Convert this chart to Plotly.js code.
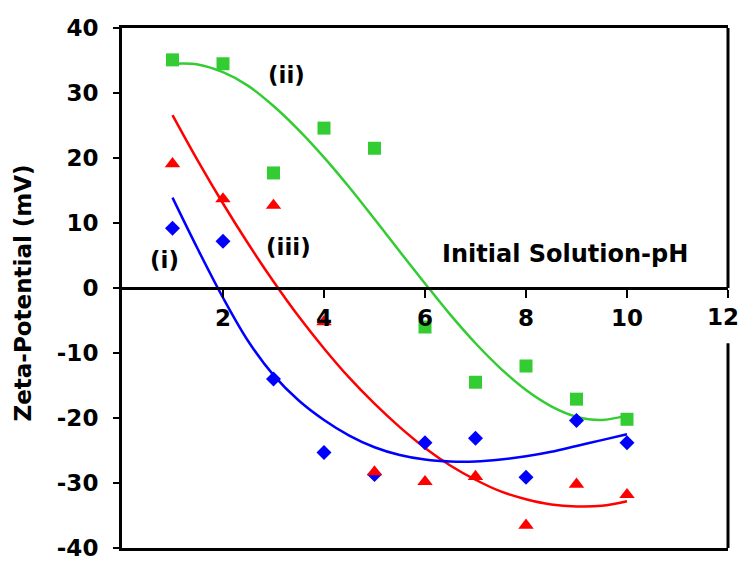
<!DOCTYPE html>
<html>
<head>
<meta charset="utf-8">
<script src="https://cdn.plot.ly/plotly-3.0.1.min.js"></script>
<style>html,body{margin:0;padding:0;background:#fff;}#chart{width:741px;height:563px;}</style>
</head>
<body>
<div id="chart"></div>
<script>
// Measured data (initial solution pH vs zeta potential, mV)
const pH = [1, 2, 3, 4, 5, 6, 7, 8, 9, 10];
const zetaI   = [9.2, 7.2, -14.0, -25.3, -28.7, -23.8, -23.1, -29.1, -20.4, -23.8];   // (i) blue diamonds
const zetaII  = [35.1, 34.5, 17.7, 24.6, 21.5, -6.0, -14.5, -12.0, -17.1, -20.2];     // (ii) green squares
const zetaIII = [19.1, 13.7, 12.7, -5.2, -28.3, -29.8, -29.0, -36.5, -30.2, -31.8];   // (iii) red triangles

// Trend lines
const pHFit = [1, 1.5, 2, 2.5, 3, 3.5, 4, 4.5, 5, 5.5, 6, 6.5, 7, 7.5, 8, 8.5, 9, 9.5, 10];
const fitI   = [13.9, 6.0, -1.5, -8.2, -13.4, -17.3, -20.3, -22.7, -24.5, -25.7, -26.4, -26.7, -26.7, -26.4, -25.9, -25.2, -24.3, -23.4, -22.5];
const fitII  = [34.5, 34.4, 33.2, 31.1, 28.0, 24.3, 20.1, 15.5, 10.6, 5.6, 0.7, -4.1, -8.5, -12.4, -15.7, -18.2, -19.8, -20.3, -19.6];
const fitIII = [26.6, 19.6, 13.0, 6.8, 1.0, -4.4, -9.3, -13.8, -17.8, -21.4, -24.6, -27.3, -29.5, -31.3, -32.5, -33.3, -33.6, -33.5, -32.8];

const xTicks = [2, 4, 6, 8, 10, 12];
const xTickText = ['2', '4', '6', '8', '10', ''];
const lastXLabel = '12';
const yTicks = [-40, -30, -20, -10, 0, 10, 20, 30, 40];
const yTickText = ['-40', '-30', '-20', '-10', '0', '10', '20', '30', '40'];

const cBlue = '#0000FF', cGreen = '#33CC33', cRed = '#FF0000';
const FONT = 'DejaVu Sans, Arial, sans-serif';

const traces = [
  {x: pHFit, y: fitII, mode: 'lines', line: {color: cGreen, width: 2.5, shape: 'spline'}, xaxis: 'x', yaxis: 'y', hoverinfo: 'skip'},
  {x: pHFit, y: fitIII, mode: 'lines', line: {color: cRed, width: 2.5, shape: 'spline'}, xaxis: 'x', yaxis: 'y', hoverinfo: 'skip'},
  {x: pHFit, y: fitI, mode: 'lines', line: {color: cBlue, width: 2.5, shape: 'spline'}, xaxis: 'x', yaxis: 'y', hoverinfo: 'skip'},
  {x: pH, y: zetaI, mode: 'markers', marker: {symbol: 'diamond', size: 11.5, color: cBlue}, xaxis: 'x2', yaxis: 'y'},
  {x: pH, y: zetaII, mode: 'markers', marker: {symbol: 'square', size: 13, color: cGreen}, xaxis: 'x2', yaxis: 'y'},
  {x: pH, y: zetaIII, mode: 'markers', marker: {symbol: 'triangle-up', size: 13.5, color: cRed}, xaxis: 'x2', yaxis: 'y'}
];

const boldFont = {family: FONT, size: 23, color: '#000', weight: 'bold'};

const layout = {
  width: 741, height: 563,
  margin: {l: 122, r: 13, t: 28, b: 15, pad: 0},
  paper_bgcolor: '#fff', plot_bgcolor: '#fff',
  showlegend: false,
  font: {family: FONT, color: '#000'},
  xaxis: {
    range: [0, 12], showgrid: false, zeroline: false,
    showline: true, linewidth: 3, linecolor: '#000', mirror: true,
    ticks: '', showticklabels: false, fixedrange: true
  },
  xaxis2: {
    overlaying: 'x', anchor: 'free', position: 0.5,
    range: [0, 12], showgrid: false, zeroline: false,
    showline: true, linewidth: 3, linecolor: '#000',
    ticks: 'outside', ticklen: 8, tickwidth: 2, tickcolor: '#000',
    tickvals: xTicks, ticktext: xTickText, tickfont: boldFont,
    ticklabelstandoff: 0
  },
  yaxis: {
    range: [-40, 40], showgrid: false, zeroline: false,
    showline: true, linewidth: 3, linecolor: '#000', mirror: false,
    ticks: 'outside', ticklen: 6, tickwidth: 2, tickcolor: '#000',
    tickvals: yTicks, ticktext: yTickText, tickfont: boldFont, ticklabelstandoff: 10
  },
  shapes: [
    {type: 'line', xref: 'paper', x0: 1, x1: 1, yref: 'y', y0: 40, y1: 0, line: {color: '#000', width: 3}, layer: 'above'},
    {type: 'line', xref: 'paper', x0: 1, x1: 1, yref: 'y', y0: -8.5, y1: -40, line: {color: '#000', width: 3}, layer: 'above'}
  ],
  annotations: [
    {text: lastXLabel, x: 11.9, y: -4.5, xref: 'x', yref: 'y', xanchor: 'center', yanchor: 'middle', showarrow: false, font: boldFont},
    {text: '(ii)', x: 3.26, y: 32.7, xref: 'x', yref: 'y', showarrow: false, font: boldFont},
    {text: '(iii)', x: 3.30, y: 6.3, xref: 'x', yref: 'y', showarrow: false, font: boldFont},
    {text: '(i)', x: 0.85, y: 4.25, xref: 'x', yref: 'y', showarrow: false, font: boldFont},
    {text: 'Initial Solution-pH', x: 8.78, y: 5.2, xref: 'x', yref: 'y', showarrow: false, font: {family: FONT, size: 24, color: '#000', weight: 'bold'}},
    {text: 'Zeta-Potential (mV)', xref: 'paper', yref: 'paper', x: -0.163, y: 0.49, xanchor: 'center', yanchor: 'middle', textangle: -90, showarrow: false, font: boldFont}
  ]
};

Plotly.newPlot('chart', traces, layout, {displayModeBar: false, staticPlot: true});
</script>
</body>
</html>
